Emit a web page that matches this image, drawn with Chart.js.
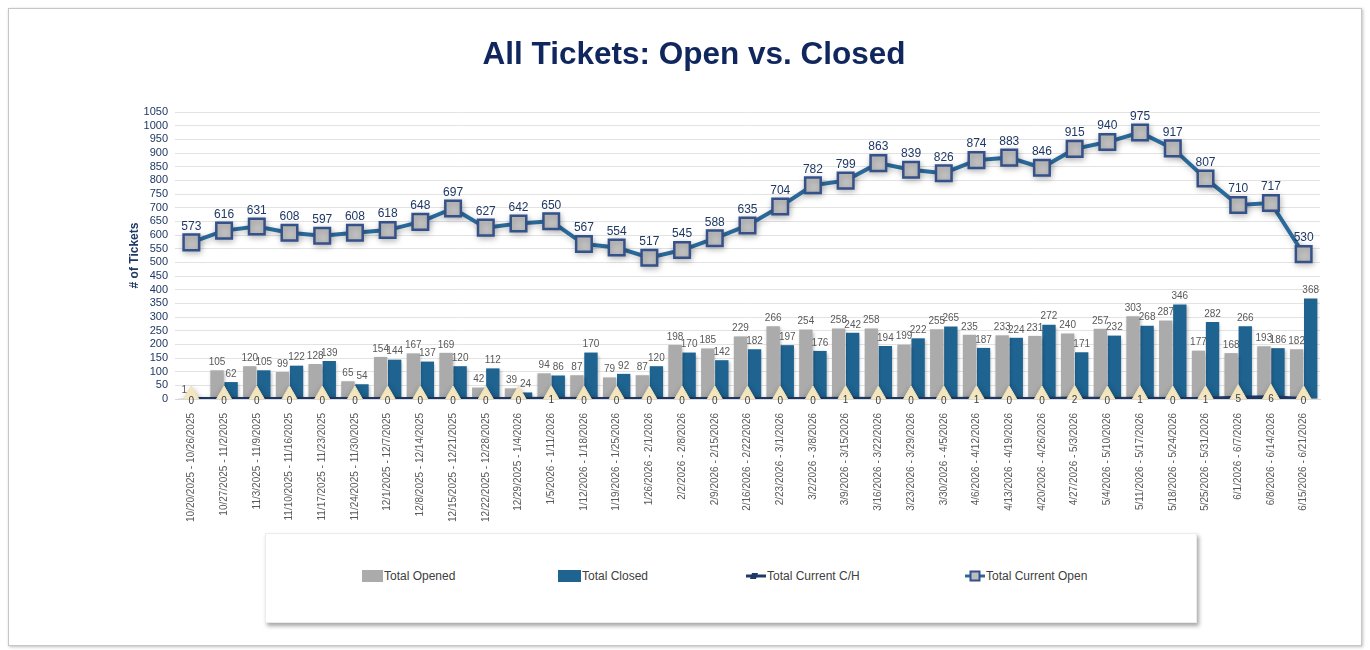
<!DOCTYPE html>
<html>
<head>
<meta charset="utf-8">
<script src="https://cdn.jsdelivr.net/npm/chart.js@4.4.1/dist/chart.umd.min.js"></script>
<style>
  body { margin: 0; background: #fff; font-family: 'Liberation Sans', Arial, sans-serif; }
  #frame { position: absolute; left: 8px; top: 8px; width: 1352px; height: 636px; border: 1px solid #c6c6c6; box-shadow: 1px 1px 3px rgba(0,0,0,0.25); }
  #title { position: absolute; left: 344px; top: 33px; width: 700px; text-align: center; font-size: 31.5px; font-weight: bold; color: #10275e; line-height: 40px; }
  #wrap { position: absolute; left: 0; top: 0; width: 1370px; height: 530px; }
  #legend { position: absolute; left: 265px; top: 533px; width: 930px; height: 88px; background: #fff; border: 1px solid #ececec; box-shadow: 2px 3px 4px rgba(0,0,0,0.35); }
  .item { position: absolute; top: 35px; height: 14px; font-size: 12px; color: #404040; line-height: 14px; white-space: nowrap; }
  .item svg { vertical-align: top; margin-right: 1px; }
</style>
</head>
<body>
<div id="frame"></div>
<div id="wrap"><canvas id="canvas" width="1370" height="530"></canvas></div>
<div id="title">All Tickets: Open vs. Closed</div>
<div id="legend">
  <div class="item" style="left:96px"><svg width="21" height="14"><rect x="0" y="1" width="21" height="12" fill="#ababab"/></svg>Total Opened</div>
  <div class="item" style="left:292px"><svg width="23" height="14"><rect x="0" y="1" width="23" height="12" fill="#1f6391"/></svg>Total Closed</div>
  <div class="item" style="left:480px"><svg width="20" height="14"><line x1="0" y1="7" x2="20" y2="7" stroke="#1f3864" stroke-width="3"/><polygon points="6,4 12,4 10,10 4,10" fill="#1f3864"/></svg>Total Current C/H</div>
  <div class="item" style="left:699px"><svg width="20" height="14"><line x1="0" y1="7" x2="20" y2="7" stroke="#2a6a9a" stroke-width="3"/><rect x="5.5" y="2.5" width="9" height="9" fill="#bdbdbd" stroke="#34518a" stroke-width="2"/></svg>Total Current Open</div>
</div>
<script>
var weeks = [
  "10/20/2025 - 10/26/2025", "10/27/2025 - 11/2/2025", "11/3/2025 - 11/9/2025", "11/10/2025 - 11/16/2025",
  "11/17/2025 - 11/23/2025", "11/24/2025 - 11/30/2025", "12/1/2025 - 12/7/2025", "12/8/2025 - 12/14/2025",
  "12/15/2025 - 12/21/2025", "12/22/2025 - 12/28/2025", "12/29/2025 - 1/4/2026", "1/5/2026 - 1/11/2026",
  "1/12/2026 - 1/18/2026", "1/19/2026 - 1/25/2026", "1/26/2026 - 2/1/2026", "2/2/2026 - 2/8/2026",
  "2/9/2026 - 2/15/2026", "2/16/2026 - 2/22/2026", "2/23/2026 - 3/1/2026", "3/2/2026 - 3/8/2026",
  "3/9/2026 - 3/15/2026", "3/16/2026 - 3/22/2026", "3/23/2026 - 3/29/2026", "3/30/2026 - 4/5/2026",
  "4/6/2026 - 4/12/2026", "4/13/2026 - 4/19/2026", "4/20/2026 - 4/26/2026", "4/27/2026 - 5/3/2026",
  "5/4/2026 - 5/10/2026", "5/11/2026 - 5/17/2026", "5/18/2026 - 5/24/2026", "5/25/2026 - 5/31/2026",
  "6/1/2026 - 6/7/2026", "6/8/2026 - 6/14/2026", "6/15/2026 - 6/21/2026"
];
var totalOpened = [1, 105, 120, 99, 128, 65, 154, 167, 169, 42, 39, 94, 87, 79, 87, 198, 185, 229, 266, 254, 258, 258, 199, 255, 235, 233, 231, 240, 257, 303, 287, 177, 168, 193, 182];
var totalClosed = [null, 62, 105, 122, 139, 54, 144, 137, 120, 112, 24, 86, 170, 92, 120, 170, 142, 182, 197, 176, 242, 194, 222, 265, 187, 224, 272, 171, 232, 268, 346, 282, 266, 186, 368];
var currentCH = [0, 0, 0, 0, 0, 0, 0, 0, 0, 0, 0, 1, 0, 0, 0, 0, 0, 0, 0, 0, 1, 0, 0, 0, 1, 0, 0, 2, 0, 1, 0, 1, 5, 6, 0];
var currentOpen = [573, 616, 631, 608, 597, 608, 618, 648, 697, 627, 642, 650, 567, 554, 517, 545, 588, 635, 704, 782, 799, 863, 839, 826, 874, 883, 846, 915, 940, 975, 917, 807, 710, 717, 530];

// soft shadow under the marks, like the office chart
var softShadow = {
  id: 'softShadow',
  beforeDatasetDraw: function(chart, args) {
    var c = chart.ctx;
    c.save();
    c.shadowColor = 'rgba(0,0,0,0.25)';
    c.shadowBlur = args.meta.type === 'line' ? 6 : 3;
    c.shadowOffsetX = 1;
    c.shadowOffsetY = 2;
  },
  afterDatasetDraw: function(chart) {
    chart.ctx.restore();
  }
};

// draws the value labels (no datalabels plugin available offline)
var valueLabels = {
  id: 'valueLabels',
  afterDatasetsDraw: function(chart) {
    var c = chart.ctx;
    c.save();
    c.textAlign = 'center';
    chart.data.datasets.forEach(function(ds, i) {
      var meta = chart.getDatasetMeta(i);
      meta.data.forEach(function(el, j) {
        var v = ds.data[j];
        if (v === null || v === undefined) return;
        if (ds.type === 'bar') {
          c.font = '10px "Liberation Sans", Arial, sans-serif';
          c.fillStyle = '#595959';
          c.textBaseline = 'bottom';
          c.fillText(v, el.x, el.y - 3);
        } else if (ds.label === 'Total Current C/H') {
          c.font = '10px "Liberation Sans", Arial, sans-serif';
          c.fillStyle = '#3a3a3a';
          c.textBaseline = 'middle';
          c.fillText(v, el.x, el.y + 2);
        } else {
          c.font = '12px "Liberation Sans", Arial, sans-serif';
          c.fillStyle = '#1f3864';
          c.textBaseline = 'middle';
          c.fillText(v, el.x, el.y - 16);
        }
      });
    });
    c.restore();
  }
};

const ctx = document.getElementById('canvas').getContext('2d');

const myChart = new Chart(ctx, {
  type: 'bar',
  data: {
    labels: weeks,
    datasets: [{
      type: 'line',
      label: 'Total Current Open',
      data: currentOpen,
      borderColor: '#2a6a9a',
      borderWidth: 4,
      pointStyle: 'rect',
      pointRadius: 11,
      pointBackgroundColor: '#c2c2c2',
      pointBorderColor: '#34518a',
      pointBorderWidth: 2.5,
      order: 1
    }, {
      type: 'line',
      label: 'Total Current C/H',
      data: currentCH,
      borderColor: '#1f3864',
      borderWidth: 4,
      pointStyle: 'triangle',
      pointRadius: 13,
      pointBackgroundColor: '#fbeec6',
      pointBorderColor: '#eee2b8',
      pointBorderWidth: 1,
      order: 2
    }, {
      type: 'bar',
      label: 'Total Opened',
      data: totalOpened,
      backgroundColor: '#ababab',
      categoryPercentage: 0.86,
      barPercentage: 0.95,
      order: 3
    }, {
      type: 'bar',
      label: 'Total Closed',
      data: totalClosed,
      backgroundColor: '#1f6391',
      categoryPercentage: 0.86,
      barPercentage: 0.95,
      order: 3
    }]
  },
  options: {
    responsive: false,
    animation: false,
    layout: { padding: { left: 125, right: 50, top: 112, bottom: 0 } },
    plugins: {
      legend: { display: false },
      tooltip: { enabled: false }
    },
    scales: {
      x: {
        grid: { display: false },
        border: { color: '#d9d9d9' },
        ticks: {
          minRotation: 90,
          maxRotation: 90,
          autoSkip: false,
          padding: 6,
          color: '#595959',
          font: { family: '"Liberation Sans", Arial, sans-serif', size: 10 }
        },
        afterFit: function(scale) { scale.height = 131; }
      },
      y: {
        min: 0,
        max: 1050,
        grid: { color: '#e3e3e3', drawTicks: false },
        border: { display: false },
        ticks: {
          stepSize: 50,
          autoSkip: false,
          padding: 7,
          color: '#1f3864',
          font: { family: '"Liberation Sans", Arial, sans-serif', size: 11 },
          callback: function(value) { return String(value); }
        },
        title: {
          display: true,
          text: '# of Tickets',
          color: '#1f3864',
          padding: 2,
          font: { family: '"Liberation Sans", Arial, sans-serif', size: 12, weight: 'bold' }
        },
        afterFit: function(scale) { scale.width = 50; }
      }
    }
  },
  plugins: [softShadow, valueLabels]
});
</script>
</body>
</html>
